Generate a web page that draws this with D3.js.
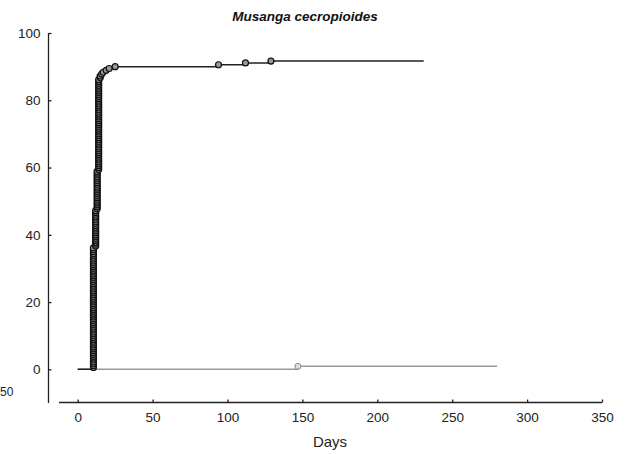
<!DOCTYPE html>
<html><head><meta charset="utf-8">
<script src="https://cdn.jsdelivr.net/npm/d3@7"></script>
<style>body{margin:0;background:#fff;} svg{display:block;font-family:"Liberation Sans",Arial,sans-serif;}</style>
</head><body><svg id="c" width="627" height="454"></svg>
<script>
// Data
const title = "Musanga cecropioides";
const xTicks = [0, 50, 100, 150, 200, 250, 300, 350];
const yTicks = [0, 20, 40, 60, 80, 100];
// black series: germination days and number of seeds germinated that day
const blackDays   = [10.5, 12, 13, 14, 15, 16, 17, 19, 21, 25, 94, 112, 129];
const blackCounts = [65, 20, 21, 49, 2, 1, 1, 1, 1, 1, 1, 1, 1];
const blackN = 180, blackEnd = 231;
// grey series
const greyDays = [147];
const greyCounts = [1];
const greyN = 110, greyEnd = 280;

const svg = d3.select("#c");
const x = d3.scaleLinear().domain([0, 350]).range([77.7, 602]);
const y = d3.scaleLinear().domain([-10, 100]).range([403, 33]);

function build(days, counts, N, end) {
  let cum = 0; const pts = [[0, 0]]; const circ = [];
  days.forEach((d, i) => {
    for (let k = 0; k < counts[i]; k++) { cum++; circ.push([d, cum / N * 100]); }
    pts.push([d, cum / N * 100]);
  });
  pts.push([end, cum / N * 100]);
  return {pts, circ};
}
const line = d3.line().x(d => x(d[0])).y(d => y(d[1])).curve(d3.curveStepAfter);

const grey = build(greyDays, greyCounts, greyN, greyEnd);
const black = build(blackDays, blackCounts, blackN, blackEnd);

svg.append("path").attr("d", line(grey.pts)).attr("fill", "none").attr("stroke", "#999").attr("stroke-width", 1.5);
svg.selectAll(".gc").data(grey.circ).enter().append("circle").attr("class", "gc")
  .attr("cx", d => x(d[0])).attr("cy", d => y(d[1])).attr("r", 3)
  .attr("fill", "#ddd").attr("stroke", "#888").attr("stroke-width", 1);

svg.append("path").attr("d", line(black.pts)).attr("fill", "none").attr("stroke", "#222").attr("stroke-width", 1.5);
svg.selectAll(".bc").data(black.circ).enter().append("circle").attr("class", "bc")
  .attr("cx", d => x(d[0])).attr("cy", d => y(d[1])).attr("r", 3)
  .attr("fill", "#999").attr("stroke", "#111").attr("stroke-width", 1.2);

// axes
const xAxis = d3.axisBottom(x).tickValues(xTicks).tickSizeInner(-3).tickSizeOuter(0).tickPadding(10);
const gx = svg.append("g").attr("transform", "translate(0,402.5)").call(xAxis);
gx.select(".domain").attr("d", `M59,0H${x(350)}`).attr("stroke", "#222").attr("stroke-width", 1.3);
gx.selectAll(".tick line").attr("stroke", "#222").attr("stroke-width", 1.3);
gx.selectAll("text").attr("font-size", 13.5).attr("fill", "#222").attr("font-family", "Liberation Sans, Arial, sans-serif");

const yAxis = d3.axisLeft(y).tickValues(yTicks).tickSizeInner(-3).tickSizeOuter(0).tickPadding(8);
const gy = svg.append("g").attr("transform", "translate(48.5,0)").call(yAxis);
gy.select(".domain").attr("d", `M0,${y(100)}V${y(-10)}`).attr("stroke", "#222").attr("stroke-width", 1.3);
gy.selectAll(".tick line").attr("stroke", "#222").attr("stroke-width", 1.3);
gy.selectAll("text").attr("font-size", 13.5).attr("fill", "#222").attr("font-family", "Liberation Sans, Arial, sans-serif");

svg.append("text").attr("x", 305).attr("y", 21).attr("text-anchor", "middle")
  .attr("font-size", 13.5).attr("font-weight", "bold").attr("font-style", "italic").attr("fill", "#111").text(title);
svg.append("text").attr("x", 330).attr("y", 447).attr("text-anchor", "middle")
  .attr("font-size", 15).attr("fill", "#222").text("Days");
svg.append("text").attr("x", 0).attr("y", 396).attr("text-anchor", "start")
  .attr("font-size", 12).attr("fill", "#222").text("50");
</script></body></html>
